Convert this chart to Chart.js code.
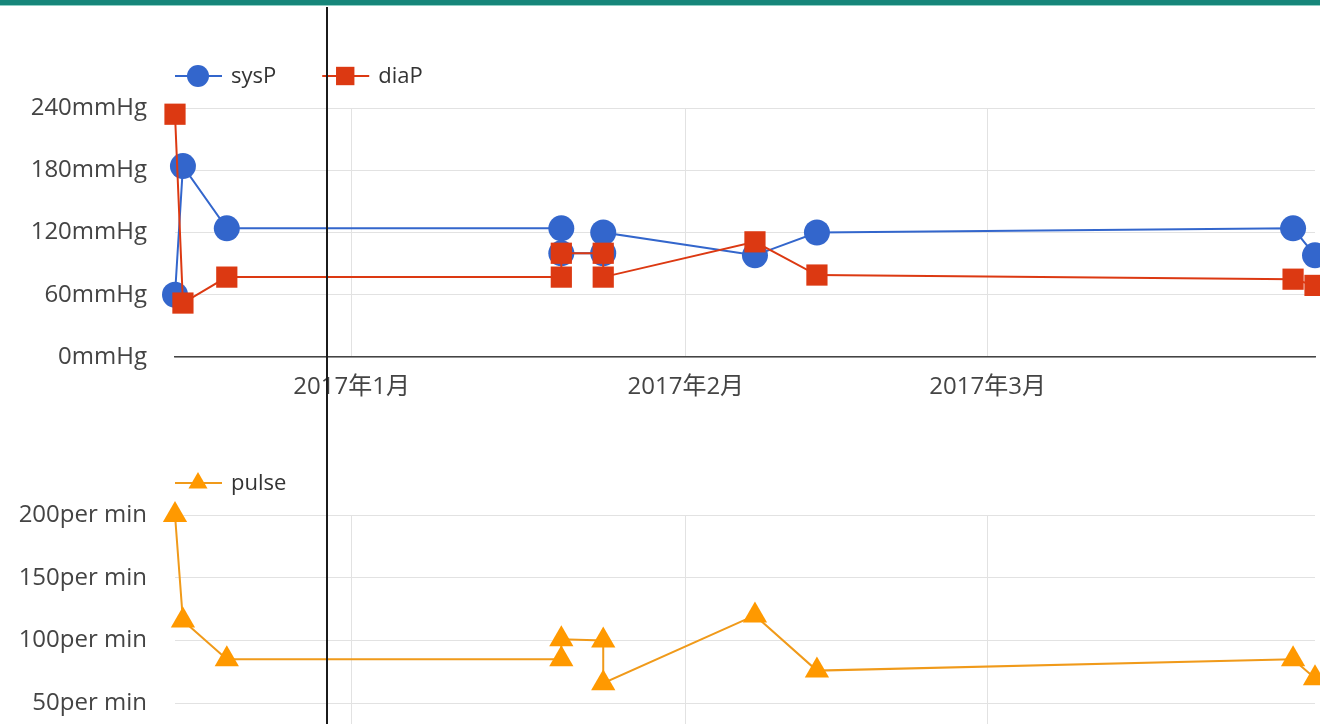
<!DOCTYPE html>
<html>
<head>
<meta charset="utf-8">
<script src="https://cdn.jsdelivr.net/npm/chart.js@4.4.1/dist/chart.umd.min.js"></script>
<style>
  html, body { margin:0; padding:0; background:#fff; overflow:hidden; width:1320px; height:724px; }
  #topbar { position:absolute; left:0; top:0; width:1320px; height:5px; background:#16867a; border-bottom:1px solid #8fd0c6; z-index:3; }
  #cursor { position:absolute; left:326px; top:7px; width:2px; height:720px; background:#1b1b1b; z-index:3; }
  canvas { position:absolute; left:0; }
  #chartBP { top:0; }
  #chartPulse { top:417px; }
</style>
</head>
<body>
<div id="topbar"></div>
<canvas id="chartBP" width="1320" height="417"></canvas>
<canvas id="chartPulse" width="1320" height="409"></canvas>
<div id="cursor"></div>

<script>
// measurement times (two readings share a timestamp on 1/20 and 1/24)
const times = [
  '2016-12-15T14:40', '2016-12-16T08:20', '2016-12-20T10:00',
  '2017-01-20T10:50', '2017-01-20T10:50', '2017-01-24T08:10', '2017-01-24T08:10',
  '2017-02-07T10:00', '2017-02-13T04:00', '2017-03-29T08:10', '2017-03-31T09:00'
];
const sysP  = [60, 184, 124, 124, 100, 100, 120, 98, 120, 124, 98];
const diaP  = [234, 52, 77, 77, 100, 100, 77, 111, 79, 75, 69];
const pulse = [200, 116, 85, 85, 101, 100, 66, 120, 76, 85, 70];

const monthStarts = ['2017-01-01T00:00', '2017-02-01T00:00', '2017-03-01T00:00'];
const bpTicks    = [0, 60, 120, 180, 240];
const pulseTicks = [0, 50, 100, 150, 200];

const xs = times.map(t => Date.parse(t));
const monthVals = monthStarts.map(t => Date.parse(t));
const FAMILY = '"Open Sans", "Noto Sans CJK SC", sans-serif';
const FONT = { family: FAMILY, size: 24 };
const LEGEND_FONT = '22px ' + FAMILY;

// legend drawn google-style: line with marker through it, then label
const lineLegend = {
  id: 'lineLegend',
  afterDraw(chart) {
    const ctx = chart.ctx, area = chart.chartArea;
    const y = area.top - 32;
    let x = area.left;
    ctx.save();
    ctx.font = LEGEND_FONT;
    ctx.textBaseline = 'middle';
    chart.data.datasets.forEach(ds => {
      ctx.strokeStyle = ds.borderColor;
      ctx.lineWidth = 2;
      ctx.beginPath(); ctx.moveTo(x, y); ctx.lineTo(x + 47, y); ctx.stroke();
      ctx.fillStyle = ds.pointBackgroundColor;
      Chart.helpers.drawPoint(ctx, { pointStyle: ds.pointStyle, radius: ds.legendRadius, rotation: 0, borderWidth: 0 }, x + 23, y);
      ctx.fillStyle = '#333';
      const tx = x + 56;
      ctx.fillText(ds.label, tx, y + 1);
      x = tx + ctx.measureText(ds.label).width + 46;
    });
    ctx.restore();
  }
};

function pts(vals) { return xs.map((x, i) => ({ x, y: vals[i] })); }

function makeScales(yTicks, unit) {
  return {
    x: {
      type: 'linear',
      min: xs[0], max: xs[xs.length - 1],
      afterBuildTicks: s => { s.ticks = monthVals.map(v => ({ value: v })); },
      afterFit: s => { s.height = 60; s.paddingLeft = 0; s.paddingRight = 0; },
      grid: { color: '#e2e2e2', lineWidth: 1, drawTicks: false },
      border: { color: '#444', width: 1.5 },
      ticks: {
        padding: 16, color: '#444', font: FONT, maxRotation: 0, autoSkip: false,
        callback: v => { const d = new Date(v); return d.getFullYear() + '年' + (d.getMonth() + 1) + '月'; }
      }
    },
    y: {
      min: yTicks[0], max: yTicks[yTicks.length - 1],
      afterBuildTicks: s => { s.ticks = yTicks.map(v => ({ value: v })); },
      afterFit: s => { s.width = 175; },
      grid: { color: '#e2e2e2', lineWidth: 1, drawTicks: false },
      border: { display: false },
      ticks: { padding: 28, color: '#444', font: FONT, callback: v => v + unit }
    }
  };
}

const baseOpts = (padTop, yTicks, unit) => ({
  responsive: false,
  animation: false,
  events: [],
  layout: { autoPadding: false, padding: { top: padTop, right: 5, bottom: 0, left: 0 } },
  plugins: { legend: { display: false }, tooltip: { enabled: false } },
  scales: makeScales(yTicks, unit)
});

// 1. blood pressure
new Chart(document.getElementById('chartBP'), {
  type: 'line',
  data: {
    datasets: [
      { label: 'sysP', data: pts(sysP), order: 1, clip: false,
        borderColor: '#3366cc', borderWidth: 2, tension: 0,
        pointStyle: 'circle', pointRadius: 13, legendRadius: 11,
        pointBackgroundColor: '#3366cc', pointBorderColor: '#3366cc', pointBorderWidth: 0 },
      { label: 'diaP', data: pts(diaP), order: 0, clip: false,
        borderColor: '#dc3912', borderWidth: 2, tension: 0,
        pointStyle: 'rect', pointRadius: 15, legendRadius: 13,
        pointBackgroundColor: '#dc3912', pointBorderColor: '#dc3912', pointBorderWidth: 0 }
    ]
  },
  options: baseOpts(108, bpTicks, 'mmHg'),
  plugins: [lineLegend]
});

// 2. pulse
new Chart(document.getElementById('chartPulse'), {
  type: 'line',
  data: {
    datasets: [
      { label: 'pulse', data: pts(pulse), clip: false,
        borderColor: '#f09a1a', borderWidth: 2, tension: 0,
        pointStyle: 'triangle', pointRadius: 14, legendRadius: 11,
        pointBackgroundColor: '#ff9900', pointBorderColor: '#ff9900', pointBorderWidth: 0 }
    ]
  },
  options: baseOpts(98, pulseTicks, 'per min'),
  plugins: [lineLegend]
});
</script>
</body>
</html>
